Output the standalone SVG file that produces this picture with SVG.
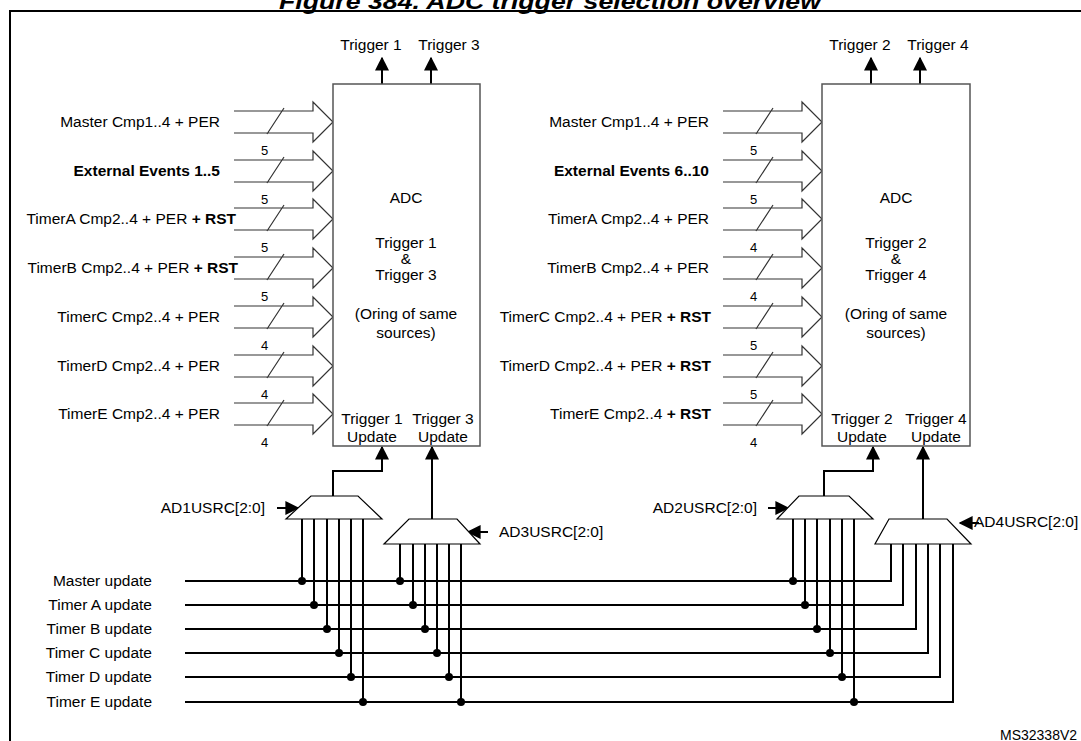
<svg xmlns="http://www.w3.org/2000/svg" xmlns:xlink="http://www.w3.org/1999/xlink" width="1081" height="741" viewBox="0 0 1081 741">
<style>
text{font-family:"Liberation Sans",Arial,sans-serif;font-size:15.5px;fill:#000}
.r{text-anchor:end}.m{text-anchor:middle}.b{font-weight:bold}
.n{font-size:13px}
.ln{stroke:#000;stroke-width:2;fill:none}
.box{fill:#fff;stroke:#555;stroke-width:1.5}
.mux{fill:#fff;stroke:#000;stroke-width:1.2}
</style>
<defs>
<path id="bus" d="M234,-11H313V-20L333,0L313,20V11H234M267,12L284,-14" fill="none" stroke="#333" stroke-width="1.2"/>
<marker id="ah" viewBox="0 0 10 10" refX="9" refY="5" markerWidth="7" markerHeight="7" orient="auto"><path d="M0,0L10,5L0,10Z" fill="#000"/></marker>
</defs>
<rect width="1081" height="741" fill="#fff"/>
<text x="550" y="9" class="m b" style="font-style:italic;font-size:22px" textLength="542" lengthAdjust="spacingAndGlyphs">Figure 384. ADC trigger selection overview</text>
<path d="M10,741V11H1081" stroke="#000" stroke-width="2" fill="none"/>

<g id="connectors">
<g id="inputs-left">
<use xlink:href="#bus" transform="translate(0,122)"/><use xlink:href="#bus" transform="translate(0,171)"/><use xlink:href="#bus" transform="translate(0,219)"/><use xlink:href="#bus" transform="translate(0,268)"/><use xlink:href="#bus" transform="translate(0,317)"/><use xlink:href="#bus" transform="translate(0,366)"/><use xlink:href="#bus" transform="translate(0,414)"/>
</g>
<g id="inputs-right">
<use xlink:href="#bus" transform="translate(489,122)"/><use xlink:href="#bus" transform="translate(489,171)"/><use xlink:href="#bus" transform="translate(489,219)"/><use xlink:href="#bus" transform="translate(489,268)"/><use xlink:href="#bus" transform="translate(489,317)"/><use xlink:href="#bus" transform="translate(489,366)"/><use xlink:href="#bus" transform="translate(489,414)"/>
</g>
<g class="ln" marker-end="url(#ah)">
<path d="M382,84V58"/><path d="M431,84V58"/><path d="M871,84V58"/><path d="M920,84V58"/>
<path d="M333,496V471H382V447"/><path d="M432,519V447"/>
<path d="M824,496V471H873V447"/><path d="M923,519V447"/>
<path d="M277,508H298"/><path d="M488,532H468"/><path d="M768,508H788"/><path d="M979,523H960"/>
</g>
<g class="ln">
<path d="M185,581H891V544M185,605H903V544M185,629H916V544M185,653H928V544M185,677H940V544M185,702H953V544"/>
<path d="M302,519V581M314,519V605M327,519V629M339,519V653M351,519V677M363,519V702"/>
<path d="M400,544V581M413,544V605M425,544V629M437,544V653M449,544V677M461,544V702"/>
<path d="M793,519V581M805,519V605M817,519V629M830,519V653M842,519V677M854,519V702"/>
</g>
<g fill="#000">
<circle cx="302" cy="581" r="4"/><circle cx="314" cy="605" r="4"/><circle cx="327" cy="629" r="4"/><circle cx="339" cy="653" r="4"/><circle cx="351" cy="677" r="4"/><circle cx="363" cy="702" r="4"/>
<circle cx="400" cy="581" r="4"/><circle cx="413" cy="605" r="4"/><circle cx="425" cy="629" r="4"/><circle cx="437" cy="653" r="4"/><circle cx="449" cy="677" r="4"/><circle cx="461" cy="702" r="4"/>
<circle cx="793" cy="581" r="4"/><circle cx="805" cy="605" r="4"/><circle cx="817" cy="629" r="4"/><circle cx="830" cy="653" r="4"/><circle cx="842" cy="677" r="4"/><circle cx="854" cy="702" r="4"/>
</g>
</g>

<g id="labels-left">
<text x="220" y="127" class="r">Master Cmp1..4 + PER</text>
<text x="220" y="176" class="r b">External Events 1..5</text>
<text x="236" y="224" class="r">TimerA Cmp2..4 + PER <tspan class="b">+ RST</tspan></text>
<text x="238" y="273" class="r">TimerB Cmp2..4 + PER <tspan class="b">+ RST</tspan></text>
<text x="220" y="322" class="r">TimerC Cmp2..4 + PER</text>
<text x="220" y="371" class="r">TimerD Cmp2..4 + PER</text>
<text x="220" y="419" class="r">TimerE Cmp2..4 + PER</text>
<g class="n"><text x="261" y="155" class="n">5</text><text x="261" y="204" class="n">5</text><text x="261" y="252" class="n">5</text><text x="261" y="301" class="n">5</text><text x="261" y="350" class="n">4</text><text x="261" y="399" class="n">4</text><text x="261" y="447" class="n">4</text></g>
</g>
<g id="labels-right">
<text x="709" y="127" class="r">Master Cmp1..4 + PER</text>
<text x="709" y="176" class="r b">External Events 6..10</text>
<text x="709" y="224" class="r">TimerA Cmp2..4 + PER</text>
<text x="709" y="273" class="r">TimerB Cmp2..4 + PER</text>
<text x="711" y="322" class="r">TimerC Cmp2..4 + PER <tspan class="b">+ RST</tspan></text>
<text x="711" y="371" class="r">TimerD Cmp2..4 + PER <tspan class="b">+ RST</tspan></text>
<text x="711" y="419" class="r">TimerE Cmp2..4 <tspan class="b">+ RST</tspan></text>
<g><text x="750" y="155" class="n">5</text><text x="750" y="204" class="n">5</text><text x="750" y="252" class="n">4</text><text x="750" y="301" class="n">4</text><text x="750" y="350" class="n">5</text><text x="750" y="399" class="n">5</text><text x="750" y="447" class="n">4</text></g>
</g>

<g id="adc1">
<rect x="333" y="84" width="147" height="362" class="box"/>
<text x="371" y="50" class="m">Trigger 1</text><text x="449" y="50" class="m">Trigger 3</text>
<text x="406" y="203" class="m">ADC</text>
<text x="406" y="248" class="m">Trigger 1</text><text x="406" y="264" class="m">&amp;</text><text x="406" y="280" class="m">Trigger 3</text>
<text x="406" y="319" class="m">(Oring of same</text><text x="406" y="338" class="m">sources)</text>
<text x="372" y="424" class="m">Trigger 1</text><text x="372" y="442" class="m">Update</text>
<text x="443" y="424" class="m">Trigger 3</text><text x="443" y="442" class="m">Update</text>
</g>
<g id="adc2">
<rect x="822" y="84" width="148" height="362" class="box"/>
<text x="860" y="50" class="m">Trigger 2</text><text x="938" y="50" class="m">Trigger 4</text>
<text x="896" y="203" class="m">ADC</text>
<text x="896" y="248" class="m">Trigger 2</text><text x="896" y="264" class="m">&amp;</text><text x="896" y="280" class="m">Trigger 4</text>
<text x="896" y="319" class="m">(Oring of same</text><text x="896" y="338" class="m">sources)</text>
<text x="862" y="424" class="m">Trigger 2</text><text x="862" y="442" class="m">Update</text>
<text x="936" y="424" class="m">Trigger 4</text><text x="936" y="442" class="m">Update</text>
</g>
<g id="mux1"><path d="M311,496H358L382,519H286Z" class="mux"/><text x="265" y="513" class="r">AD1USRC[2:0]</text></g>
<g id="mux3"><path d="M409,519H457L480,544H384Z" class="mux"/><text x="499" y="537">AD3USRC[2:0]</text></g>
<g id="mux2"><path d="M799,496H849L873,519H777Z" class="mux"/><text x="757" y="513" class="r">AD2USRC[2:0]</text></g>
<g id="mux4"><path d="M889,519H947L971,544H875Z" class="mux"/><text x="974" y="527">AD4USRC[2:0]</text></g>

<g id="bus-labels">
<text x="152" y="586" class="r">Master update</text>
<text x="152" y="610" class="r">Timer A update</text>
<text x="152" y="634" class="r">Timer B update</text>
<text x="152" y="658" class="r">Timer C update</text>
<text x="152" y="682" class="r">Timer D update</text>
<text x="152" y="707" class="r">Timer E update</text>
</g>
<text x="1000" y="740" class="n" style="font-size:14px">MS32338V2</text>
</svg>
